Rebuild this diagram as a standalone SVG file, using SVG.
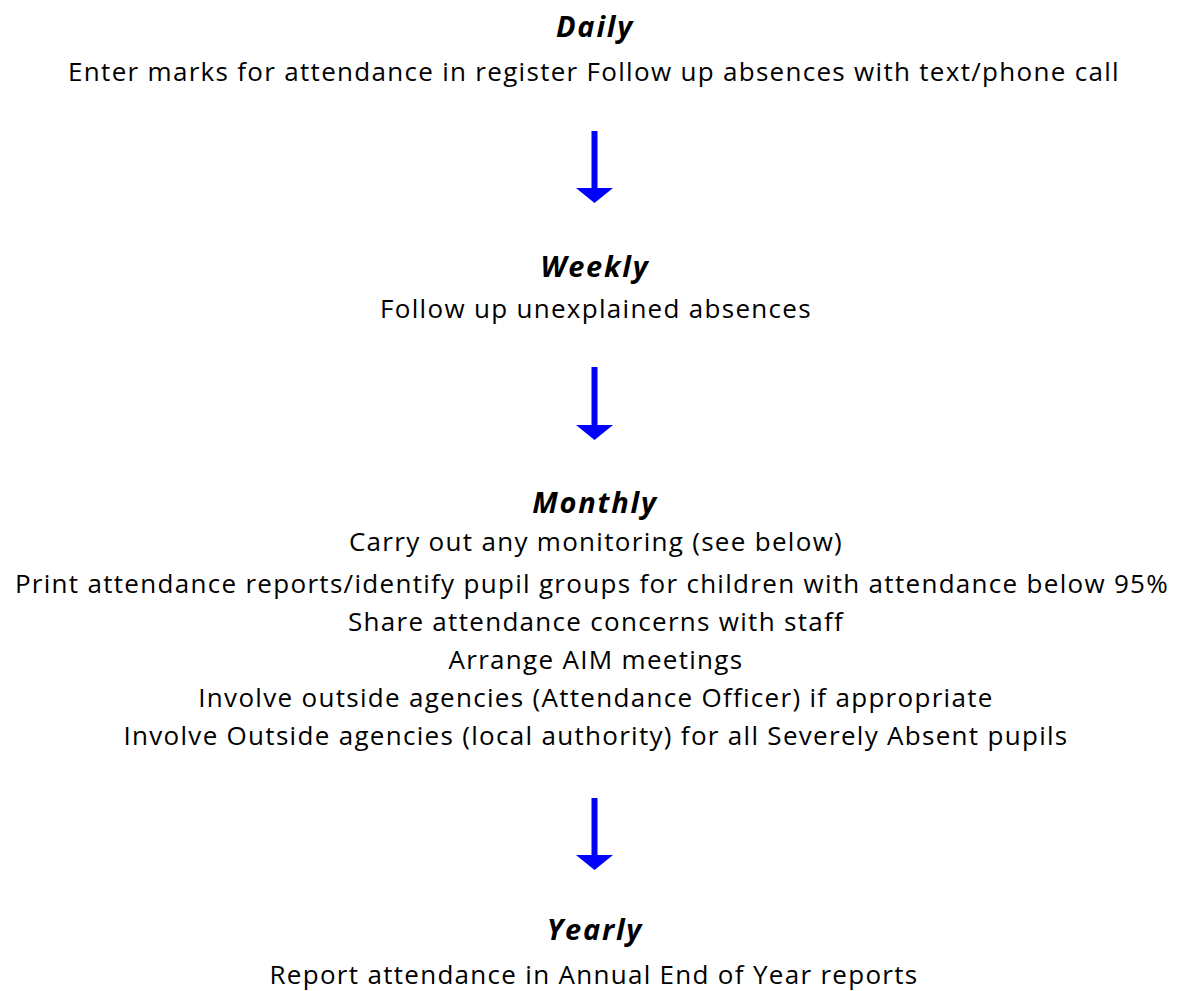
<svg xmlns="http://www.w3.org/2000/svg" width="1180" height="991" viewBox="0 0 1180 991">
<style>
.h{font-family:"Open Sans","Noto Sans",sans-serif;font-size:29px;font-weight:bold;font-style:italic;letter-spacing:1.8px;fill:#000;text-anchor:middle}
.t{font-family:"Open Sans","Noto Sans",sans-serif;font-size:26px;letter-spacing:1.3px;fill:#000;text-anchor:middle}
.arr{fill:#0000ff}
</style>
<rect width="1180" height="991" fill="#fff"/>
<g id="daily">
<text class="h" x="595" y="37">Daily</text>
<text class="t" x="594" y="81">Enter marks for attendance in register Follow up absences with text/phone call</text>
</g>
<g id="weekly">
<text class="h" x="595" y="277">Weekly</text>
<text class="t" x="596" y="318">Follow up unexplained absences</text>
</g>
<g id="monthly">
<text class="h" x="595" y="513">Monthly</text>
<text class="t" x="596" y="551">Carry out any monitoring (see below)</text>
<text class="t" x="592" y="593">Print attendance reports/identify pupil groups for children with attendance below 95%</text>
<text class="t" x="596" y="631">Share attendance concerns with staff</text>
<text class="t" x="596" y="669">Arrange AIM meetings</text>
<text class="t" x="596" y="707">Involve outside agencies (Attendance Officer) if appropriate</text>
<text class="t" x="596" y="745">Involve Outside agencies (local authority) for all Severely Absent pupils</text>
</g>
<g id="yearly">
<text class="h" x="595" y="940">Yearly</text>
<text class="t" x="594" y="984">Report attendance in Annual End of Year reports</text>
</g>
<g id="connectors">
<path class="arr" d="M591.5 131H597.5V188H613L594.5 203L576 188H591.5Z"/>
<path class="arr" d="M591.5 367H597.5V425H613L594.5 440L576 425H591.5Z"/>
<path class="arr" d="M591.5 798H597.5V855H613L594.5 870L576 855H591.5Z"/>
</g>
</svg>
